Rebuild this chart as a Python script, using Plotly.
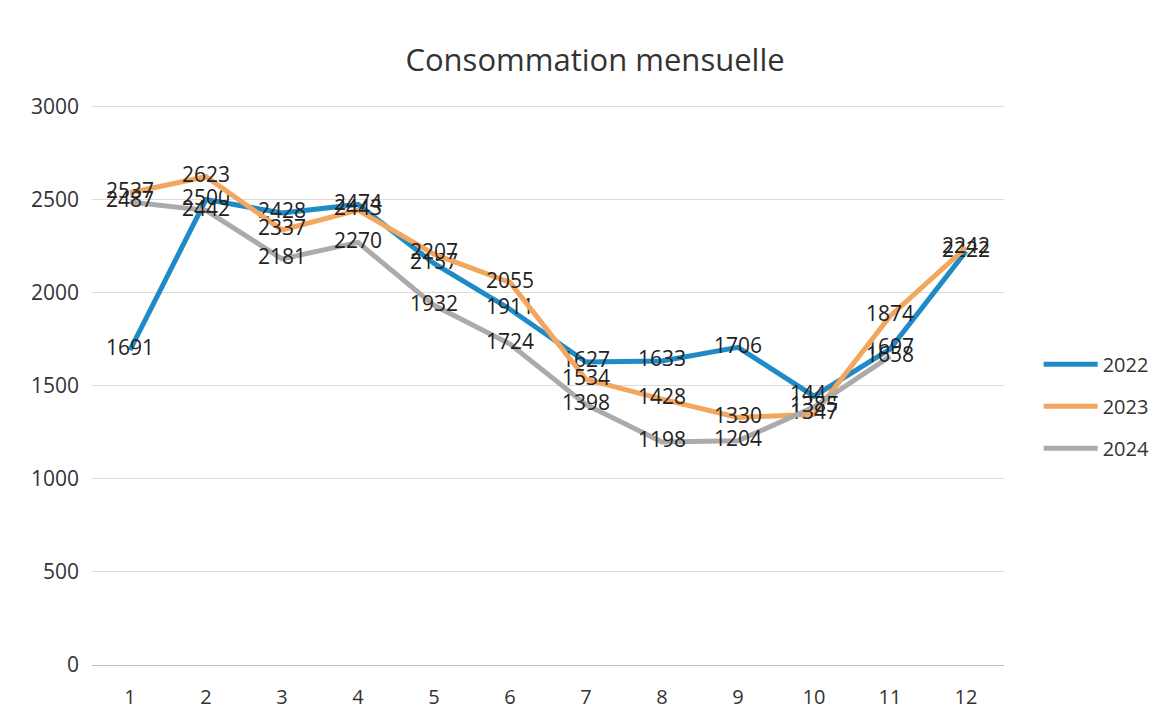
import plotly.graph_objects as go

months = [1, 2, 3, 4, 5, 6, 7, 8, 9, 10, 11, 12]
y2022 = [1691, 2500, 2428, 2474, 2157, 1911, 1627, 1633, 1706, 1444, 1697, 2222]
y2023 = [2537, 2623, 2337, 2443, 2207, 2055, 1534, 1428, 1330, 1347, 1874, 2242]
months_2024 = [1, 2, 3, 4, 5, 6, 7, 8, 9, 10, 11]
y2024 = [2487, 2442, 2181, 2270, 1932, 1724, 1398, 1198, 1204, 1385, 1658]

series = [
    ("2022", months, y2022, "#1F8BC6"),
    ("2023", months, y2023, "#F2A65E"),
    ("2024", months_2024, y2024, "#ABABAB"),
]

FONT = "Open Sans, Liberation Sans, sans-serif"

fig = go.Figure()
for name, xs, ys, col in series:
    fig.add_trace(go.Scatter(
        x=[str(m) for m in xs], y=ys, name=name, legendgroup=name,
        mode="lines+text",
        line=dict(color=col, width=5),
        text=[str(v) for v in ys],
        textposition="middle center",
        textfont=dict(family=FONT, size=21, color="#222222"),
        cliponaxis=False,
    ))

fig.update_layout(
    width=1154, height=713,
    paper_bgcolor="white", plot_bgcolor="white",
    margin=dict(l=84, r=158, t=97, b=56, autoexpand=False),
    title=dict(text="Consommation mensuelle", x=0.5087, xanchor="center",
               y=0.927, yanchor="middle",
               font=dict(family=FONT, size=31, color="#333333")),
    font=dict(family=FONT, color="#333333"),
    legend=dict(x=1.038, xanchor="left", y=0.462, yanchor="middle",
                font=dict(family=FONT, size=20, color="#333333"),
                tracegroupgap=13, itemwidth=54),
    showlegend=True,
)
fig.update_xaxes(type="category", categoryorder="array",
                 categoryarray=[str(m) for m in months],
                 range=[-0.5, len(months) - 0.5],
                 showgrid=False, showline=False, ticks="", automargin=False,
                 ticklabelstandoff=18,
                 tickfont=dict(size=20, color="#333333"))
fig.update_yaxes(range=[0, 3008], tickvals=[0, 500, 1000, 1500, 2000, 2500, 3000],
                 showgrid=True, gridcolor="#DCDCDC", gridwidth=1,
                 zeroline=True, zerolinecolor="#C0C0C0", zerolinewidth=1,
                 showline=False, ticks="", automargin=False, ticklabelstandoff=12,
                 tickfont=dict(size=21, color="#333333"))

fig.write_html("out.html")
